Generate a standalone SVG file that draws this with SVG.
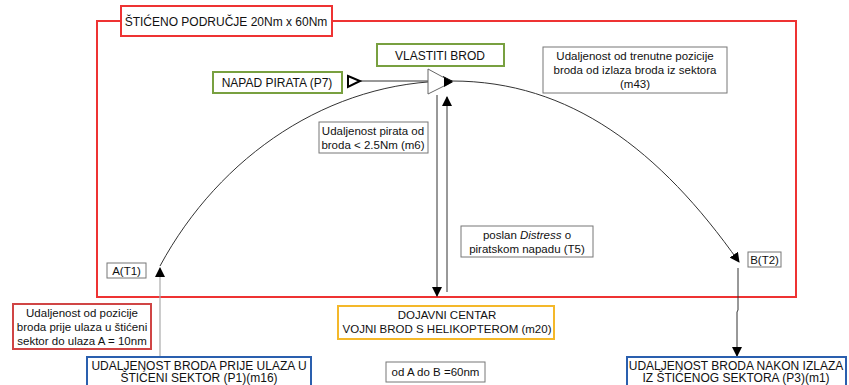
<svg xmlns="http://www.w3.org/2000/svg" width="849" height="385" viewBox="0 0 849 385">
<style>
text{font-family:"Liberation Sans",Arial,sans-serif;font-size:11.5px;fill:#111;text-anchor:middle}
.cap{font-size:12px}
.box{fill:#fff;stroke:#777;stroke-width:1}
.green{fill:#fff;stroke:#78a040;stroke-width:2}
.blue{fill:#fff;stroke:#2a5fae;stroke-width:2}
.red2{fill:#fff;stroke:#d04545;stroke-width:2}
.yel{fill:#fff;stroke:#f4b82a;stroke-width:2}
.ln{fill:none;stroke:#333;stroke-width:1}
.gl{fill:none;stroke:#aaa;stroke-width:1.2}
</style>
<defs>
<marker id="ah" markerWidth="10" markerHeight="10" refX="9" refY="5" orient="auto" markerUnits="userSpaceOnUse">
<path d="M0,0 L10,5 L0,10 Z" fill="#000"/>
</marker>
</defs>
<rect x="0" y="0" width="849" height="385" fill="#fff"/>
<rect x="97" y="21" width="699" height="276" fill="none" stroke="#ee3333" stroke-width="2"/>
<g id="title"><rect x="121" y="6" width="211" height="30" fill="#fff" stroke="#ee3333" stroke-width="2"/><text class="cap" x="226" y="26">ŠTIĆENO PODRUČJE 20Nm x 60Nm</text></g>
<g id="connectors">
<path class="ln" d="M160,266 C220,155 330,81 452,81" marker-end="url(#ah)"/>
<path class="ln" d="M452,81 C570,81 660,150 739,262" marker-end="url(#ah)"/>
<line class="ln" x1="360" y1="81" x2="444" y2="81"/>
<polygon points="348,76 360,81 348,87" fill="#fff" stroke="#000" stroke-width="2"/>
<line class="gl" x1="160" y1="357" x2="160" y2="268" marker-end="url(#ah)"/>
<line class="ln" x1="437" y1="95" x2="437" y2="296" marker-end="url(#ah)"/>
<line class="ln" x1="447" y1="292" x2="447" y2="97" marker-end="url(#ah)"/>
<path class="ln" d="M738,268 L738,310 L737,312 L737,356" marker-end="url(#ah)"/>
</g>
<g id="ship"><polygon points="428,69 452,82 428,94" fill="#fff" stroke="#666" stroke-width="1"/><polygon points="444,77 453,82 444,87" fill="#000"/></g>
<g id="vlastiti"><rect class="green" x="377" y="44" width="127" height="22"/><text class="cap" x="440" y="59.5">VLASTITI BROD</text></g>
<g id="napad"><rect class="green" x="213" y="72" width="129" height="21"/><text class="cap" x="277" y="87">NAPAD PIRATA (P7)</text></g>
<g id="m43"><rect class="box" x="543" y="47" width="184" height="46"/><text x="635" y="60">Udaljenost od trenutne pozicije</text><text x="635" y="74">broda od izlaza broda iz sektora</text><text x="635" y="88">(m43)</text></g>
<g id="m6"><rect class="box" x="319" y="122" width="109" height="31"/><text x="373" y="135">Udaljenost pirata od</text><text x="373" y="149">broda &lt; 2.5Nm (m6)</text></g>
<g id="t5"><rect class="box" x="461" y="226" width="132" height="31"/><text x="527" y="239">poslan <tspan font-style="italic">Distress</tspan> o</text><text x="527" y="253">piratskom napadu (T5)</text></g>
<g id="a"><rect class="box" x="107" y="263" width="39" height="15"/><text x="126.5" y="275">A(T1)</text></g>
<g id="b"><rect class="box" x="748" y="252" width="33" height="15"/><text x="764.5" y="264">B(T2)</text></g>
<g id="dist10"><rect class="red2" x="13" y="304" width="138" height="45"/><text x="82" y="317">Udaljenost od pozicije</text><text x="82" y="331">broda prije ulaza u štićeni</text><text x="82" y="345">sektor do ulaza A = 10nm</text></g>
<g id="centar"><rect class="yel" x="338" y="306" width="216" height="33"/><text x="447" y="319">DOJAVNI CENTAR</text><text x="447" y="333">VOJNI BROD S HELIKOPTEROM (m20)</text></g>
<g id="ab"><rect class="box" x="386" y="362" width="99" height="20"/><text x="435.5" y="375.5">od A do B =60nm</text></g>
<g id="p1"><rect class="blue" x="87" y="357" width="224" height="34"/><text class="cap" x="199" y="369.5">UDALJENOST BRODA PRIJE ULAZA U</text><text class="cap" x="199" y="382">ŠTIĆENI SEKTOR (P1)(m16)</text></g>
<g id="p3"><rect class="blue" x="627" y="357" width="219" height="34"/><text class="cap" x="736" y="369.5">UDALJENOST BRODA NAKON IZLAZA</text><text class="cap" x="736" y="382">IZ ŠTIĆENOG SEKTORA (P3)(m1)</text></g>
</svg>
